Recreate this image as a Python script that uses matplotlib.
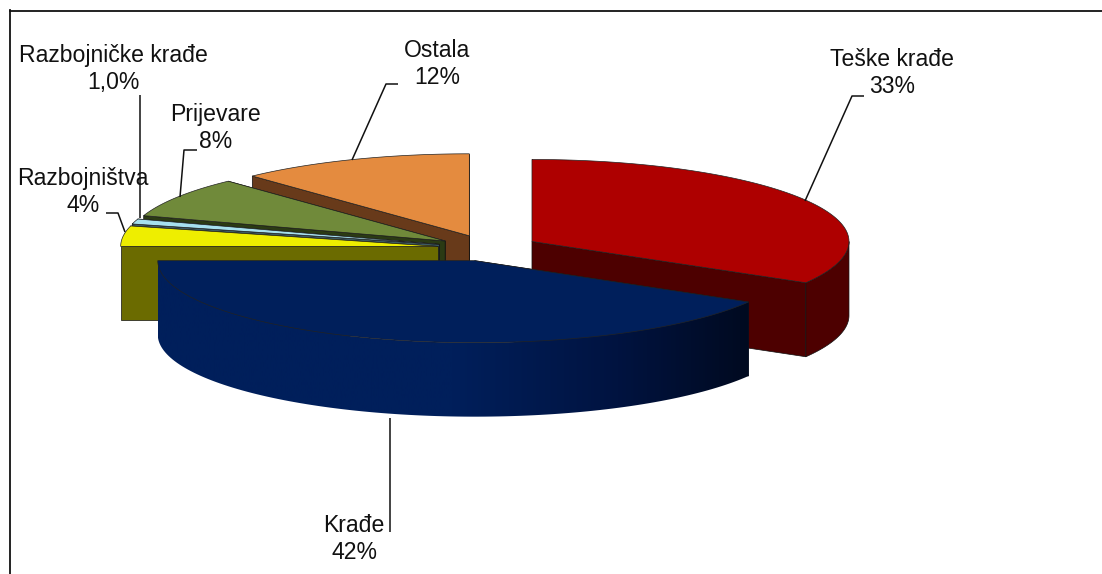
"""Exploded 3D-look pie of crime shares, drawn with squashed wedges."""

import numpy as np
import matplotlib

matplotlib.use("Agg")
import matplotlib.pyplot as plt
from matplotlib.colors import LinearSegmentedColormap
from matplotlib.patches import Polygon

names = ["Teške krađe", "Krađe", "Razbojništva", "Razbojničke krađe", "Prijevare", "Ostala"]
shares = [33.4, 41.6, 4, 1, 8, 12]
share_labels = ["33%", "42%", "4%", "1,0%", "8%", "12%"]

top_colors = ["#ae0000", "#001f5b", "#eeee00", "#a6e0ee", "#708a3a", "#e48b3f"]
wall_colors = ["#4d0000", "#001f5b", "#6b6b00", "#3c5a62", "#2b3a14", "#683a1a"]

# pie placement in image pixels
CX, CY = 488, 248
RX, RY = 317, 82
DEPTH = 74
EXPLODE = 0.16

label_pos = [(892, 73), (354, 539), (83, 192), (113, 69), (216, 128), (437, 64)]
leaders = [
    [(864, 96), (852, 96), (805, 201)],
    [(390, 418), (390, 532)],
    [(106, 213), (118, 213), (125, 232)],
    [(140, 95), (140, 218)],
    [(197, 150), (184, 150), (180, 197)],
    [(398, 84), (386, 84), (352, 160)],
]

# back slices first so the front ones cover them
draw_order = [5, 4, 3, 2, 0, 1]

plt.rcParams["font.family"] = ["Liberation Sans", "DejaVu Sans"]


def rim(apex, a0, a1, n=120):
    t = np.radians(np.linspace(a0, a1, n))
    return np.column_stack([apex[0] + RX * np.sin(t), apex[1] - RY * np.cos(t)])


fig = plt.figure(figsize=(11.02, 5.74), dpi=100)
ax = fig.add_axes([0, 0, 1, 1])

ends = np.cumsum(shares) / np.sum(shares) * 360
starts = np.r_[0, ends[:-1]]

navy_fade = LinearSegmentedColormap.from_list(
    "navy_fade",
    [(0.0, "#001f5b"), (0.5, "#001f5b"), (0.78, "#001340"), (1.0, "#000a20")],
)

for rank, i in enumerate(draw_order):
    a0, a1 = starts[i], ends[i]
    z = rank * 3 + 1
    mid = np.radians((a0 + a1) / 2)
    apex = (CX + EXPLODE * RX * np.sin(mid), CY - EXPLODE * RY * np.cos(mid))
    arc = rim(apex, a0, a1)

    # cut faces of the slice, the one further back goes first
    for end in sorted((arc[0], arc[-1]), key=lambda p: p[1]):
        face = [apex, end, end + [0, DEPTH], (apex[0], apex[1] + DEPTH)]
        ax.add_patch(Polygon(face, fc=wall_colors[i], ec="#111111", lw=0.5, zorder=z))

    # outer wall, only the part that faces the viewer
    w0, w1 = max(a0, 90), min(a1, 270)
    if w0 < w1:
        front = rim(apex, w0, w1)
        wall = np.vstack([front, (front + [0, DEPTH])[::-1]])
        if names[i] == "Krađe":
            patch = Polygon(wall, fc="none", ec="none", zorder=z + 1)
            ax.add_patch(patch)
            grad = np.linspace(0, 1, 256).reshape(1, -1)
            im = ax.imshow(
                grad,
                cmap=navy_fade,
                extent=(front[:, 0].min(), front[:, 0].max(), 574, 0),
                aspect="auto",
                zorder=z + 1,
            )
            im.set_clip_path(patch)
        else:
            ax.add_patch(Polygon(wall, fc=wall_colors[i], ec="#111111", lw=0.5, zorder=z + 1))

    top = np.vstack([[apex], arc])
    ax.add_patch(Polygon(top, fc=top_colors[i], ec="#222222", lw=0.5, zorder=z + 2))

for name, share, (x, y) in zip(names, share_labels, label_pos):
    ax.text(
        x, y, f"{name}\n{share}", ha="center", va="center",
        fontsize=16.6, color="#111111", linespacing=1.22, zorder=40,
    )

for line in leaders:
    xs, ys = zip(*line)
    ax.plot(xs, ys, color="#111111", lw=1.1, zorder=39, solid_capstyle="butt")

# chart frame: only top and left sides are in view
ax.plot([9.5, 1102], [10.5, 10.5], color="#111111", lw=1.3, zorder=41)
ax.plot([9.5, 9.5], [10, 574], color="#111111", lw=1.3, zorder=41)

ax.set_xlim(0, 1102)
ax.set_ylim(574, 0)
ax.axis("off")

fig.savefig("out.png", dpi=100)
plt.close(fig)
